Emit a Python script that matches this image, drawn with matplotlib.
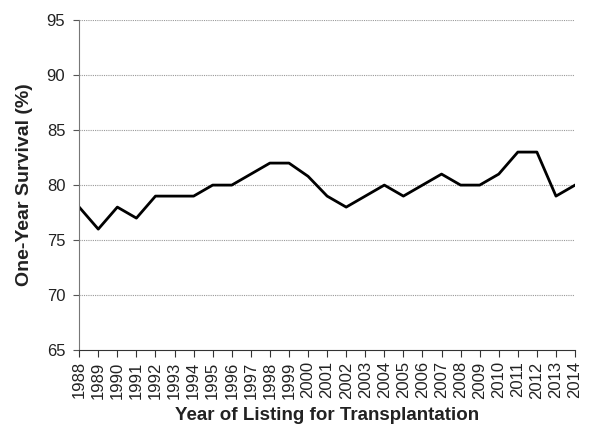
import matplotlib
matplotlib.use("Agg")
import matplotlib.pyplot as plt

plt.rcParams["font.family"] = ["Liberation Sans", "DejaVu Sans"]

years = list(range(1988, 2015))
survival = [78, 76, 78, 77, 79, 79, 79, 80, 80, 81, 82, 82, 80.8, 79,
            78, 79, 80, 79, 80, 81, 80, 80, 81, 83, 83, 79, 80]
y_ticks = [65, 70, 75, 80, 85, 90, 95]

fig = plt.figure(figsize=(5.91, 4.26), dpi=100)
ax = fig.add_axes([0.134, 0.178, 0.839, 0.775])

ax.plot(years, survival, color="black", linewidth=2)

ax.set_xlim(1988, 2014)
ax.set_ylim(65, 95)
ax.set_xticks(years)
ax.set_xticklabels([str(y) for y in years], rotation=90, fontsize=12)
ax.set_yticks(y_ticks)
ax.tick_params(axis="y", labelsize=12, length=4, pad=6, color="#555555", labelcolor="#222222")
ax.tick_params(axis="x", length=5, pad=3, color="#333333", labelcolor="#222222")

for v in y_ticks[1:]:
    ax.axhline(v, color="#999999", linestyle=(0, (1, 1)), linewidth=0.8, zorder=0)

for side in ["top", "right"]:
    ax.spines[side].set_visible(False)
ax.spines["left"].set_color("#777777")
ax.spines["bottom"].set_color("#333333")

ax.set_xlabel("Year of Listing for Transplantation", fontsize=13.5, fontweight="bold",
              color="#222222", labelpad=6)
ax.set_ylabel("One-Year Survival (%)", fontsize=14, fontweight="bold",
              color="#222222", labelpad=10)

fig.savefig("out.png", dpi=100)
